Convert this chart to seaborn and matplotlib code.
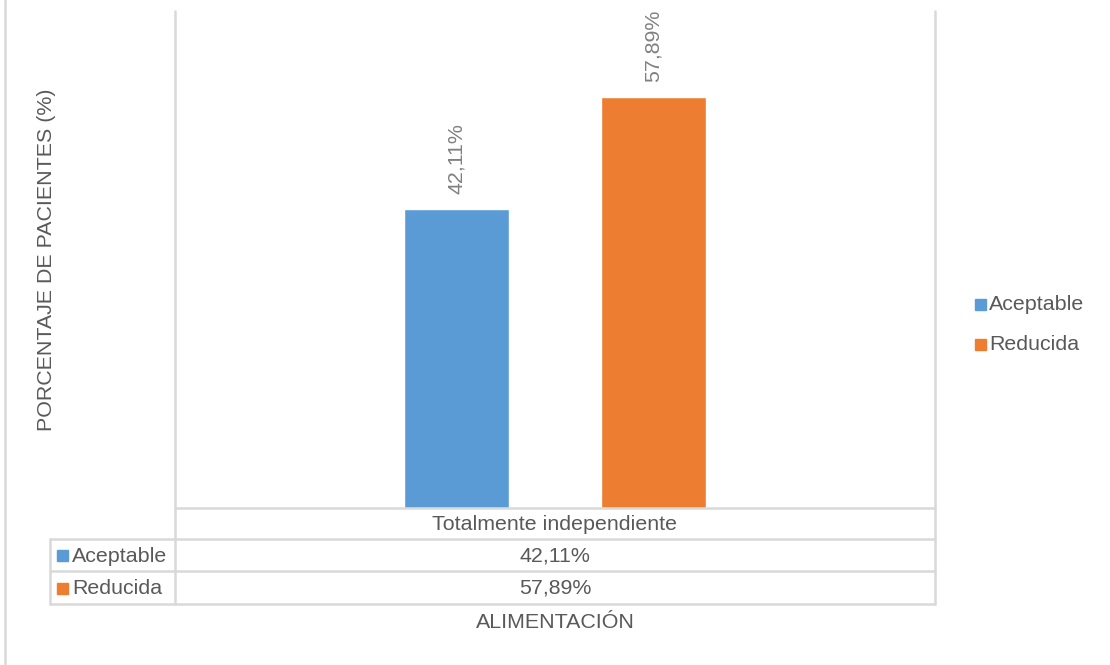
import pandas as pd
import matplotlib.pyplot as plt
from matplotlib.lines import Line2D
from matplotlib.patches import Rectangle
import seaborn as sns

## Datos
categoria = ['Totalmente independiente']
series = ['Aceptable', 'Reducida']
valores = [42.11, 57.89]
etiquetas = ['42,11%', '57,89%']
colores = ['#5B9BD5', '#ED7D31']

df = pd.DataFrame({'cat': categoria * len(series), 'serie': series, 'valor': valores})

sns.set_style('white')
plt.rcParams['font.family'] = ['Liberation Sans', 'DejaVu Sans']

W, H = 1110, 665
fs = 15.4
fig = plt.figure(figsize=(W / 100, H / 100), dpi=100)

def px(x, y):
    ## pixeles -> coordenadas de figura
    return x / W, 1 - y / H

left, right, top, bottom = 175, 935, 11, 508
ax = fig.add_axes([left / W, 1 - bottom / H, (right - left) / W, (bottom - top) / H])

sns.barplot(data=df, x='cat', y='valor', hue='serie', palette=colores,
            gap=0.47, width=0.8, saturation=1, legend=False, ax=ax)

ax.set_ylim(0, 70)
ax.set_xlim(-0.772, 0.772)
ax.set_xlabel('')
ax.set_ylabel('')
ax.set_xticks([])
ax.set_yticks([])
for s in ax.spines.values():
    s.set_visible(False)

## Etiquetas de datos
for cont, lab in zip(ax.containers, etiquetas):
    ax.bar_label(cont, labels=[lab], rotation=90, padding=11, color='#808080', fontsize=fs)

txt = '#595959'
gris = '#d9d9d9'
lw = 1.8

def linea(x0, y0, x1, y1):
    a, b = px(x0, y0)
    c, d = px(x1, y1)
    fig.add_artist(Line2D([a, c], [b, d], color=gris, lw=lw, transform=fig.transFigure))

## Tabla de datos
linea(left, bottom, right, bottom)
linea(50, 539, right, 539)
linea(50, 571, right, 571)
linea(50, 604, right, 604)
linea(left, top, left, 604)
linea(right, top, right, 604)
linea(50, 539, 50, 604)
linea(5, 0, 5, H)

fig.text(*px((left + right) / 2, 525), categoria[0], ha='center', va='center', fontsize=fs, color=txt)
filas = [556, 588.5]
for i, s in enumerate(series):
    fig.add_artist(Rectangle(px(57, filas[i] + 5), 11 / W, 11 / H, color=colores[i], transform=fig.transFigure))
    fig.text(*px(72, filas[i]), s, ha='left', va='center', fontsize=fs, color=txt)
    fig.text(*px((left + right) / 2, filas[i]), etiquetas[i], ha='center', va='center', fontsize=fs, color=txt)

## Leyenda
ley = [305, 345]
for i, s in enumerate(series):
    fig.add_artist(Rectangle(px(975, ley[i] + 5), 11 / W, 11 / H, color=colores[i], transform=fig.transFigure))
    fig.text(*px(989, ley[i]), s, ha='left', va='center', fontsize=fs, color=txt)

## Titulos de ejes
fig.text(*px(555, 622), 'ALIMENTACIÓN', ha='center', va='center', fontsize=fs, color=txt)
fig.text(*px(47, 260), 'PORCENTAJE DE PACIENTES (%)', ha='center', va='center', rotation=90, fontsize=fs, color=txt)

fig.savefig('out.png', dpi=100, facecolor='white')
